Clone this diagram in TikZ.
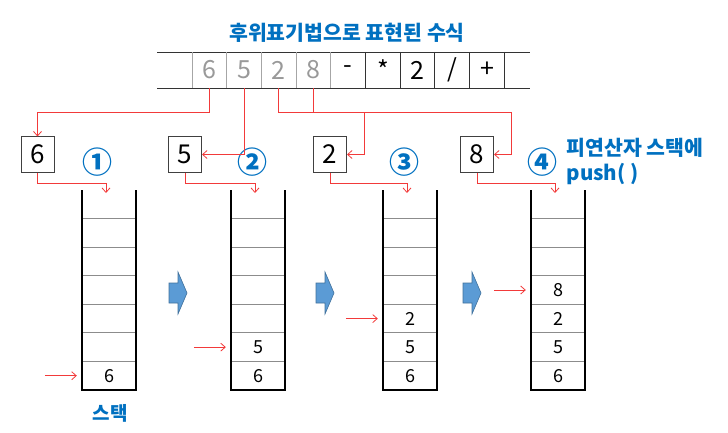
\documentclass[tikz,border=0pt]{standalone}
\usepackage{fontspec}
\setmainfont{Noto Sans CJK KR}
\usetikzlibrary{arrows.meta,calc}
\definecolor{stkblue}{HTML}{0070C0}
\definecolor{stkred}{HTML}{F23A3A}
\definecolor{stkfill}{HTML}{5B9BD5}
\definecolor{stkedge}{HTML}{41719C}
\tikzset{
  stkcell/.style={minimum width=34.7pt, minimum height=36pt, inner sep=0pt, font=\fontsize{25}{25}\selectfont},
  stkbox/.style={draw=black!75, line width=1pt, minimum width=33pt, minimum height=35pt, inner sep=0pt, font=\fontsize{26}{26}\selectfont},
  stkslot/.style={minimum width=54pt, minimum height=28.57pt, inner sep=0pt, font=\fontsize{18}{18}\selectfont},
  stkwall/.style={line width=1.8pt},
  stkline/.style={black!45, line width=0.9pt},
  stkarrow/.style={-{Straight Barb[length=4.5pt,width=8pt]}, stkred, line width=0.8pt},
  stklabel/.style={stkblue, font=\bfseries\fontsize{20.5}{25}\selectfont},
  stkstep/.style={stkblue, font=\bfseries\fontsize{30}{30}\selectfont, inner sep=0pt},
  stkblock/.style={fill=stkfill, draw=stkedge, line width=0.6pt}
}

\begin{document}
\begin{tikzpicture}[x=1pt,y=-1pt]
\useasboundingbox (0,0) rectangle (728,433);
% postfix expression
\node[stklabel] (title) at (347,33) {후위표기법으로 표현된 수식};
\draw[line width=0.9pt, black!80] (157,52) -- (530,52) (157,88) -- (530,88);
\foreach \i in {0,...,4} \draw[black!35, line width=0.9pt] (192+34.7*\i,52) -- ++(0,36);
\foreach \i in {5,...,9} \draw[black!80, line width=0.9pt] (192+34.7*\i,52) -- ++(0,36);
\foreach \v [count=\i] in {6,5,2,8}
  \node[stkcell, text=black!40] (c\i) at (174.65+34.7*\i,70) {\v};
\foreach \v [count=\i from 5] in {-,*,2,/,+}
  \node[stkcell] (c\i) at (174.65+34.7*\i,70) {\v};
% operands taken out one by one
\node[stkbox] (b1) at (37.5,154.5) {6};
\node[stkbox] (b2) at (185,154.5) {5};
\node[stkbox] (b3) at (330,154.5) {2};
\node[stkbox] (b4) at (477,154.5) {8};
\node[stkstep] (n1) at (97,162) {①};
\node[stkstep] (n2) at (252,162) {②};
\node[stkstep] (n3) at (404,162) {③};
\node[stkstep] (n4) at (542,162) {④};
\node[stklabel, align=left, anchor=north west] (note) at (563,135) {피연산자 스택에\\push( )};
\draw[stkarrow] (c1.south) -- ++(0,24) -| (b1.north);
\draw[stkarrow] (c2.south) |- (b2.east);
\draw[stkarrow] (c3.south) |- ++(86,24) |- (b3.east);
\draw[stkarrow] (c4.south) |- ++(198,24) |- (b4.east);
% stacks
\foreach \k/\x in {1/82,2/231,3/383,4/531} {
  \draw[stkwall] (\x,190) |- (\x+54,390) -- (\x+54,190);
  \foreach \j in {1,...,6} \draw[stkline] (\x+1,390-28.57*\j) -- (\x+53,390-28.57*\j);
  \foreach \j/\v in {1/6,2/5,3/2,4/8} {
    \ifnum\j>\k\else
      \node[stkslot] (s\k\j) at (\x+27,404.29-28.57*\j) {\v};
    \fi
  }
  \coordinate (t\k) at (\x+24,193);
  \coordinate (p\k) at ($(s\k\k.west)+(-37,0)$);
  \draw[stkarrow, shorten >=5pt] (p\k) -- (s\k\k.west);
  \draw[stkarrow] (b\k.south) -- ++(0,11) -| (t\k);
}
\foreach \x in {169,316,463}
  \draw[stkblock] (\x,283) -- ++(9,0) -- ++(0,-11) -- ++(9,21) -- ++(-9,21) -- ++(0,-11) -- ++(-9,0) -- cycle;
\node[stklabel, font=\bfseries\fontsize{19}{19}\selectfont] (stk) at (110,413) {스택};
\end{tikzpicture}
\end{document}
